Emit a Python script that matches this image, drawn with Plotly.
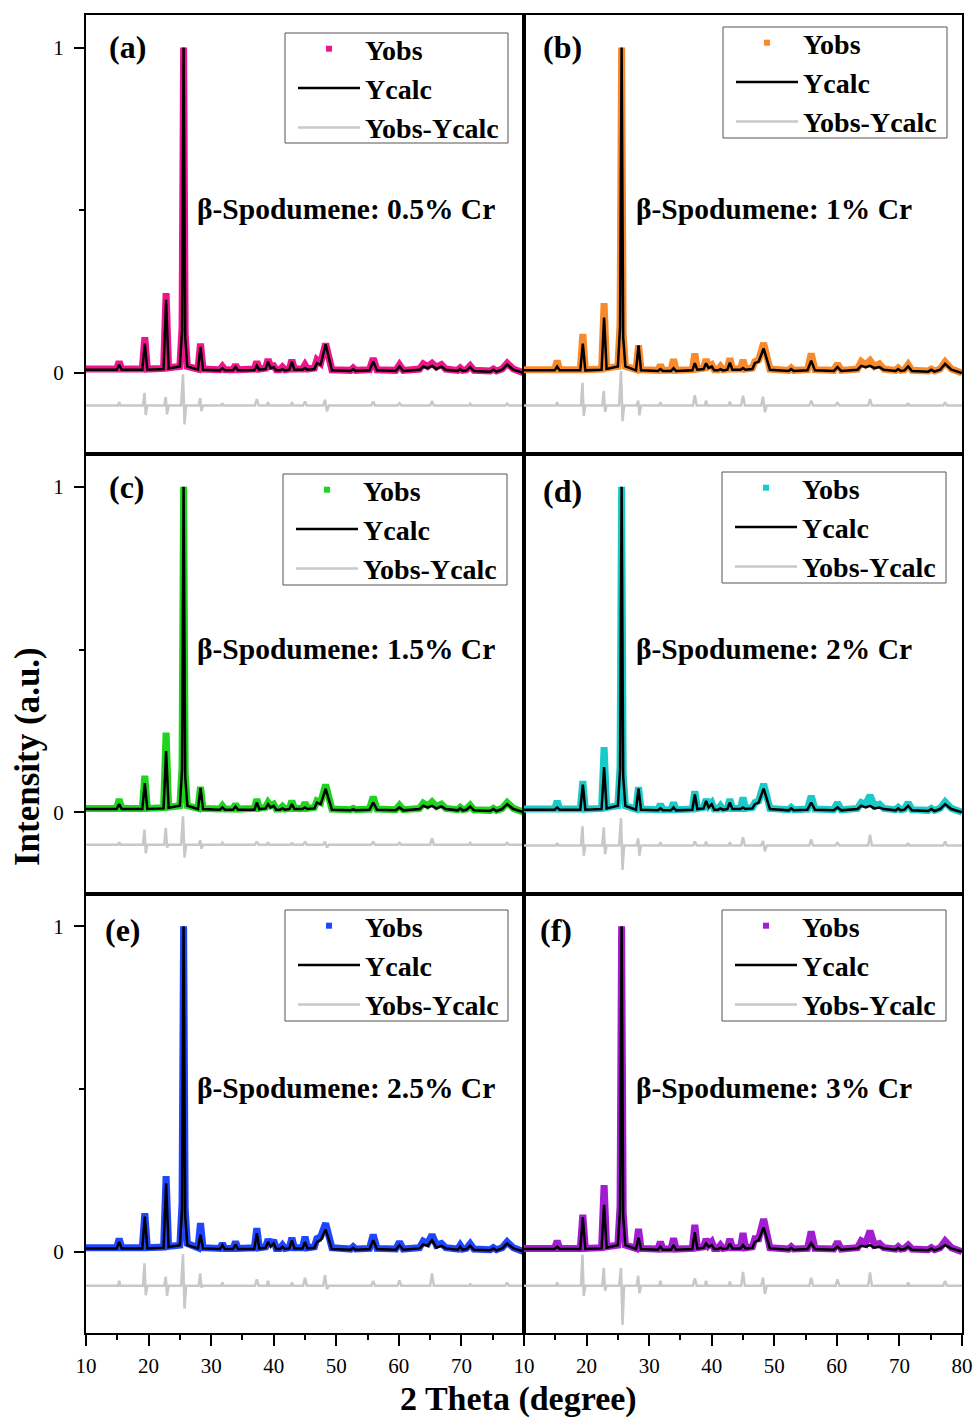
import plotly.graph_objects as go
from plotly.subplots import make_subplots

# ---------------- data ----------------
GRID_X = [10.0,
          14.9, 15.3, 15.7,
          19.0, 19.4, 19.8,
          22.4, 22.8, 23.2,
          25.0, 25.35, 25.6, 25.85, 26.2,
          27.9, 28.3, 28.7,
          31.4, 31.8, 32.2,
          33.5, 33.9, 34.3,
          36.9, 37.3, 37.7,
          38.7, 39.1, 39.5, 40.0, 40.4,
          41.0, 41.4, 41.8,
          42.5, 42.9, 43.3,
          44.6, 45.0, 45.4,
          46.5, 46.9, 47.5, 48.3, 49.3,
          52.3, 52.7, 53.1,
          55.3, 55.9, 56.5,
          59.5, 60.1, 60.7,
          63.3, 63.9, 64.6, 65.3, 66.0, 66.8, 67.5,
          69.4, 69.8, 70.2,
          70.8, 71.4, 72.0,
          74.6, 75.1, 75.6,
          76.5, 77.3, 78.3,
          80.0]

OBS_A = [0.012,
         0.012, 0.035, 0.012,
         0.012, 0.11, 0.012,
         0.014, 0.245, 0.016,
         0.02, 0.14, 1.0, 0.12, 0.02,
         0.012, 0.09, 0.012,
         0.01, 0.02, 0.01,
         0.01, 0.025, 0.01,
         0.012, 0.035, 0.012,
         0.015, 0.042, 0.02, 0.022, 0.01,
         0.01, 0.018, 0.01,
         0.012, 0.04, 0.012,
         0.012, 0.025, 0.012,
         0.015, 0.04, 0.03, 0.09, 0.01,
         0.008, 0.015, 0.008,
         0.01, 0.045, 0.01,
         0.008, 0.025, 0.008,
         0.012, 0.028, 0.02, 0.03, 0.018, 0.026, 0.012,
         0.008, 0.015, 0.008,
         0.01, 0.022, 0.008,
         0.006, 0.012, 0.006,
         0.012, 0.03, 0.012,
         0.0]
CALC_A = [0.01,
          0.01, 0.025, 0.01,
          0.01, 0.09, 0.01,
          0.012, 0.225, 0.014,
          0.02, 0.13, 1.0, 0.11, 0.02,
          0.01, 0.08, 0.01,
          0.008, 0.015, 0.008,
          0.008, 0.018, 0.008,
          0.008, 0.022, 0.01,
          0.012, 0.035, 0.015, 0.018, 0.008,
          0.008, 0.012, 0.008,
          0.01, 0.035, 0.01,
          0.01, 0.015, 0.01,
          0.012, 0.03, 0.025, 0.088, 0.008,
          0.006, 0.012, 0.006,
          0.008, 0.035, 0.008,
          0.006, 0.02, 0.006,
          0.01, 0.02, 0.015, 0.022, 0.012, 0.02, 0.01,
          0.006, 0.012, 0.006,
          0.008, 0.018, 0.006,
          0.004, 0.01, 0.004,
          0.01, 0.026, 0.01,
          0.0]

OBS_B = [0.01,
         0.01, 0.038, 0.01,
         0.01, 0.12, 0.01,
         0.012, 0.215, 0.015,
         0.02, 0.15, 1.0, 0.12, 0.02,
         0.01, 0.085, 0.01,
         0.008, 0.025, 0.008,
         0.008, 0.042, 0.008,
         0.01, 0.06, 0.012,
         0.015, 0.042, 0.02, 0.025, 0.01,
         0.01, 0.02, 0.01,
         0.012, 0.045, 0.012,
         0.012, 0.04, 0.012,
         0.015, 0.035, 0.04, 0.092, 0.012,
         0.008, 0.015, 0.008,
         0.01, 0.06, 0.01,
         0.008, 0.028, 0.008,
         0.012, 0.035, 0.025, 0.038, 0.02, 0.028, 0.012,
         0.008, 0.015, 0.008,
         0.01, 0.026, 0.008,
         0.006, 0.012, 0.006,
         0.012, 0.034, 0.012,
         0.0]
CALC_B = [0.008,
          0.008, 0.02, 0.008,
          0.008, 0.09, 0.008,
          0.01, 0.17, 0.012,
          0.02, 0.14, 1.0, 0.11, 0.02,
          0.008, 0.085, 0.008,
          0.006, 0.012, 0.006,
          0.006, 0.015, 0.006,
          0.008, 0.03, 0.01,
          0.012, 0.03, 0.015, 0.02, 0.008,
          0.008, 0.012, 0.008,
          0.01, 0.032, 0.01,
          0.01, 0.015, 0.01,
          0.012, 0.03, 0.035, 0.075, 0.01,
          0.006, 0.012, 0.006,
          0.008, 0.038, 0.008,
          0.006, 0.018, 0.006,
          0.01, 0.022, 0.018, 0.022, 0.015, 0.018, 0.01,
          0.006, 0.012, 0.006,
          0.008, 0.02, 0.006,
          0.004, 0.01, 0.004,
          0.01, 0.028, 0.01,
          0.0]

OBS_C = [0.012,
         0.012, 0.04, 0.012,
         0.012, 0.112, 0.012,
         0.014, 0.245, 0.016,
         0.02, 0.14, 1.0, 0.12, 0.02,
         0.012, 0.078, 0.012,
         0.01, 0.02, 0.01,
         0.01, 0.025, 0.01,
         0.012, 0.04, 0.012,
         0.015, 0.03, 0.02, 0.025, 0.01,
         0.01, 0.018, 0.01,
         0.012, 0.035, 0.012,
         0.012, 0.03, 0.012,
         0.015, 0.035, 0.03, 0.085, 0.01,
         0.008, 0.012, 0.008,
         0.01, 0.048, 0.01,
         0.008, 0.022, 0.008,
         0.012, 0.028, 0.02, 0.032, 0.018, 0.025, 0.012,
         0.008, 0.015, 0.008,
         0.01, 0.022, 0.008,
         0.006, 0.012, 0.006,
         0.012, 0.03, 0.012,
         0.0]
CALC_C = [0.01,
          0.01, 0.025, 0.01,
          0.01, 0.09, 0.01,
          0.012, 0.188, 0.014,
          0.02, 0.13, 1.0, 0.11, 0.02,
          0.01, 0.075, 0.01,
          0.008, 0.015, 0.008,
          0.008, 0.018, 0.008,
          0.008, 0.03, 0.01,
          0.012, 0.025, 0.015, 0.02, 0.008,
          0.008, 0.012, 0.008,
          0.01, 0.025, 0.01,
          0.01, 0.015, 0.01,
          0.012, 0.03, 0.025, 0.072, 0.008,
          0.006, 0.01, 0.006,
          0.008, 0.03, 0.008,
          0.006, 0.015, 0.006,
          0.01, 0.02, 0.015, 0.02, 0.012, 0.018, 0.01,
          0.006, 0.012, 0.006,
          0.008, 0.018, 0.006,
          0.004, 0.01, 0.004,
          0.01, 0.025, 0.01,
          0.0]

OBS_D = [0.01,
         0.01, 0.035, 0.01,
         0.01, 0.096, 0.01,
         0.012, 0.2, 0.015,
         0.02, 0.14, 1.0, 0.12, 0.02,
         0.01, 0.077, 0.01,
         0.008, 0.025, 0.008,
         0.008, 0.03, 0.008,
         0.01, 0.065, 0.012,
         0.015, 0.04, 0.02, 0.03, 0.01,
         0.01, 0.02, 0.01,
         0.012, 0.04, 0.012,
         0.012, 0.045, 0.012,
         0.015, 0.03, 0.035, 0.087, 0.012,
         0.008, 0.015, 0.008,
         0.01, 0.05, 0.01,
         0.008, 0.03, 0.008,
         0.012, 0.03, 0.025, 0.052, 0.02, 0.025, 0.012,
         0.008, 0.015, 0.008,
         0.01, 0.03, 0.008,
         0.006, 0.012, 0.006,
         0.012, 0.032, 0.012,
         0.0]
CALC_D = [0.008,
          0.008, 0.015, 0.008,
          0.008, 0.085, 0.008,
          0.01, 0.139, 0.012,
          0.02, 0.13, 1.0, 0.11, 0.02,
          0.008, 0.073, 0.008,
          0.006, 0.012, 0.006,
          0.006, 0.015, 0.006,
          0.008, 0.055, 0.01,
          0.012, 0.035, 0.015, 0.025, 0.008,
          0.008, 0.012, 0.008,
          0.01, 0.03, 0.01,
          0.01, 0.015, 0.01,
          0.012, 0.025, 0.03, 0.073, 0.01,
          0.006, 0.012, 0.006,
          0.008, 0.03, 0.008,
          0.006, 0.015, 0.006,
          0.01, 0.02, 0.015, 0.02, 0.012, 0.015, 0.01,
          0.006, 0.012, 0.006,
          0.008, 0.02, 0.006,
          0.004, 0.01, 0.004,
          0.01, 0.025, 0.01,
          0.0]

OBS_E = [0.012,
         0.012, 0.04, 0.012,
         0.012, 0.118, 0.012,
         0.014, 0.232, 0.016,
         0.02, 0.15, 1.0, 0.13, 0.025,
         0.012, 0.088, 0.012,
         0.01, 0.025, 0.01,
         0.01, 0.03, 0.01,
         0.012, 0.072, 0.012,
         0.015, 0.038, 0.02, 0.035, 0.01,
         0.01, 0.02, 0.01,
         0.012, 0.042, 0.012,
         0.012, 0.046, 0.012,
         0.015, 0.04, 0.045, 0.087, 0.012,
         0.008, 0.015, 0.008,
         0.01, 0.052, 0.01,
         0.008, 0.03, 0.008,
         0.012, 0.032, 0.025, 0.052, 0.02, 0.025, 0.012,
         0.008, 0.02, 0.008,
         0.01, 0.024, 0.008,
         0.006, 0.012, 0.006,
         0.012, 0.03, 0.012,
         0.0]
CALC_E = [0.01,
          0.01, 0.03, 0.01,
          0.01, 0.108, 0.01,
          0.012, 0.21, 0.014,
          0.02, 0.13, 1.0, 0.11, 0.02,
          0.01, 0.052, 0.01,
          0.008, 0.02, 0.008,
          0.008, 0.022, 0.008,
          0.008, 0.057, 0.01,
          0.012, 0.03, 0.015, 0.025, 0.008,
          0.008, 0.015, 0.008,
          0.01, 0.035, 0.01,
          0.01, 0.03, 0.01,
          0.012, 0.03, 0.035, 0.068, 0.008,
          0.006, 0.012, 0.006,
          0.008, 0.035, 0.008,
          0.006, 0.02, 0.006,
          0.01, 0.022, 0.018, 0.035, 0.012, 0.018, 0.01,
          0.006, 0.015, 0.006,
          0.008, 0.018, 0.006,
          0.004, 0.01, 0.004,
          0.01, 0.025, 0.01,
          0.0]

OBS_F = [0.01,
         0.01, 0.033, 0.01,
         0.01, 0.113, 0.01,
         0.012, 0.204, 0.015,
         0.02, 0.14, 1.0, 0.12, 0.02,
         0.01, 0.07, 0.01,
         0.008, 0.03, 0.008,
         0.008, 0.041, 0.008,
         0.01, 0.082, 0.012,
         0.015, 0.039, 0.02, 0.03, 0.01,
         0.01, 0.02, 0.01,
         0.012, 0.039, 0.012,
         0.012, 0.057, 0.012,
         0.015, 0.04, 0.04, 0.1, 0.012,
         0.008, 0.015, 0.008,
         0.01, 0.062, 0.01,
         0.008, 0.03, 0.008,
         0.012, 0.033, 0.025, 0.064, 0.02, 0.025, 0.012,
         0.008, 0.015, 0.008,
         0.01, 0.02, 0.008,
         0.006, 0.012, 0.006,
         0.012, 0.033, 0.012,
         0.0]
CALC_F = [0.008,
          0.008, 0.015, 0.008,
          0.008, 0.105, 0.008,
          0.01, 0.144, 0.012,
          0.02, 0.13, 1.0, 0.11, 0.02,
          0.008, 0.043, 0.008,
          0.006, 0.015, 0.006,
          0.006, 0.02, 0.006,
          0.008, 0.06, 0.01,
          0.012, 0.025, 0.015, 0.02, 0.008,
          0.008, 0.012, 0.008,
          0.01, 0.025, 0.01,
          0.01, 0.02, 0.01,
          0.012, 0.03, 0.035, 0.074, 0.01,
          0.006, 0.012, 0.006,
          0.008, 0.026, 0.008,
          0.006, 0.015, 0.006,
          0.01, 0.018, 0.015, 0.02, 0.012, 0.015, 0.01,
          0.006, 0.012, 0.006,
          0.008, 0.015, 0.006,
          0.004, 0.01, 0.004,
          0.01, 0.02, 0.01,
          0.0]

DIFF_X = [10.0,
          15.1, 15.3, 15.5,
          19.1, 19.35, 19.55, 19.8,
          22.5, 22.75, 22.95, 23.2,
          25.2, 25.5, 25.75, 26.0,
          28.0, 28.25, 28.45, 28.7,
          31.6, 31.8, 32.0,
          37.0, 37.3, 37.6,
          38.9, 39.1, 39.3,
          42.7, 42.9, 43.1,
          44.7, 45.0, 45.3,
          47.9, 48.2, 48.5, 48.8,
          55.6, 55.9, 56.2,
          59.8, 60.1, 60.4,
          65.0, 65.3, 65.6,
          71.2, 71.4, 71.6,
          77.0, 77.3, 77.6,
          80.0]

DIFF_A = [-0.1,
          -0.1, -0.09, -0.1,
          -0.1, -0.061, -0.129, -0.1,
          -0.1, -0.074, -0.127, -0.1,
          -0.1, -0.004, -0.158, -0.1,
          -0.1, -0.077, -0.117, -0.1,
          -0.1, -0.093, -0.1,
          -0.1, -0.08, -0.1,
          -0.1, -0.09, -0.1,
          -0.1, -0.09, -0.1,
          -0.1, -0.088, -0.1,
          -0.1, -0.082, -0.118, -0.1,
          -0.1, -0.088, -0.1,
          -0.1, -0.093, -0.1,
          -0.1, -0.086, -0.1,
          -0.1, -0.095, -0.1,
          -0.1, -0.094, -0.1,
          -0.1]
DIFF_B = [-0.1,
          -0.1, -0.09, -0.1,
          -0.1, -0.03, -0.132, -0.1,
          -0.1, -0.055, -0.12, -0.1,
          -0.1, 0.006, -0.148, -0.1,
          -0.1, -0.085, -0.13, -0.1,
          -0.1, -0.09, -0.1,
          -0.1, -0.068, -0.1,
          -0.1, -0.085, -0.1,
          -0.1, -0.088, -0.1,
          -0.1, -0.07, -0.1,
          -0.1, -0.073, -0.12, -0.1,
          -0.1, -0.085, -0.1,
          -0.1, -0.09, -0.1,
          -0.1, -0.08, -0.1,
          -0.1, -0.092, -0.1,
          -0.1, -0.09, -0.1,
          -0.1]
DIFF_C = [-0.1,
          -0.1, -0.092, -0.1,
          -0.1, -0.053, -0.126, -0.1,
          -0.1, -0.048, -0.108, -0.1,
          -0.1, -0.012, -0.139, -0.1,
          -0.1, -0.086, -0.112, -0.1,
          -0.1, -0.094, -0.1,
          -0.1, -0.09, -0.1,
          -0.1, -0.092, -0.1,
          -0.1, -0.093, -0.1,
          -0.1, -0.09, -0.1,
          -0.1, -0.09, -0.108, -0.1,
          -0.1, -0.09, -0.1,
          -0.1, -0.094, -0.1,
          -0.1, -0.079, -0.1,
          -0.1, -0.094, -0.1,
          -0.1, -0.094, -0.1,
          -0.1]
DIFF_D = [-0.102,
          -0.102, -0.095, -0.102,
          -0.102, -0.043, -0.133, -0.102,
          -0.102, -0.046, -0.129, -0.102,
          -0.102, -0.018, -0.177, -0.102,
          -0.102, -0.08, -0.133, -0.102,
          -0.102, -0.092, -0.102,
          -0.102, -0.09, -0.102,
          -0.102, -0.09, -0.102,
          -0.102, -0.092, -0.102,
          -0.102, -0.077, -0.102,
          -0.102, -0.088, -0.12, -0.102,
          -0.102, -0.083, -0.102,
          -0.102, -0.092, -0.102,
          -0.102, -0.069, -0.102,
          -0.102, -0.095, -0.102,
          -0.102, -0.09, -0.102,
          -0.102]
DIFF_E = [-0.105,
          -0.105, -0.09, -0.105,
          -0.105, -0.036, -0.134, -0.105,
          -0.105, -0.077, -0.136, -0.105,
          -0.105, -0.008, -0.175, -0.105,
          -0.105, -0.067, -0.11, -0.105,
          -0.105, -0.095, -0.105,
          -0.105, -0.085, -0.105,
          -0.105, -0.09, -0.105,
          -0.105, -0.095, -0.105,
          -0.105, -0.08, -0.105,
          -0.105, -0.072, -0.115, -0.105,
          -0.105, -0.09, -0.105,
          -0.105, -0.088, -0.105,
          -0.105, -0.067, -0.105,
          -0.105, -0.1, -0.105,
          -0.105, -0.095, -0.105,
          -0.105]
DIFF_F = [-0.105,
          -0.105, -0.095, -0.105,
          -0.105, -0.01, -0.136, -0.105,
          -0.105, -0.05, -0.12, -0.105,
          -0.105, -0.05, -0.225, -0.105,
          -0.105, -0.074, -0.128, -0.105,
          -0.105, -0.09, -0.105,
          -0.105, -0.082, -0.105,
          -0.105, -0.09, -0.105,
          -0.105, -0.092, -0.105,
          -0.105, -0.062, -0.105,
          -0.105, -0.08, -0.13, -0.105,
          -0.105, -0.08, -0.105,
          -0.105, -0.085, -0.105,
          -0.105, -0.064, -0.105,
          -0.105, -0.095, -0.105,
          -0.105, -0.09, -0.105,
          -0.105]

PANEL_TAGS = ["(a)", "(b)", "(c)", "(d)", "(e)", "(f)"]
PANEL_TEXT = ["β-Spodumene: 0.5% Cr", "β-Spodumene: 1% Cr",
              "β-Spodumene: 1.5% Cr", "β-Spodumene: 2% Cr",
              "β-Spodumene: 2.5% Cr", "β-Spodumene: 3% Cr"]
OBS_SETS = [OBS_A, OBS_B, OBS_C, OBS_D, OBS_E, OBS_F]
CALC_SETS = [CALC_A, CALC_B, CALC_C, CALC_D, CALC_E, CALC_F]
DIFF_SETS = [DIFF_A, DIFF_B, DIFF_C, DIFF_D, DIFF_E, DIFF_F]
OBS_COLORS = ["#F0148C", "#F98A2C", "#1ED41E", "#19CACA", "#1F45FF", "#A21CD0"]

X_TICKS = [10, 20, 30, 40, 50, 60, 70, 80]
X_MINOR = [15, 25, 35, 45, 55, 65, 75]

# ---------------- layout geometry (pixels) ----------------
W, H = 977, 1420
ML, MR, MT, MB = 86, 15, 15, 87
PW = W - ML - MR
PH = H - MT - MB


def px(x):
    return (x - ML) / PW


def py(y):
    return 1 - (y - MT) / PH


FONT = "Liberation Serif"
TAG_POS = [(107, 47), (541, 47), (107, 487), (541, 491), (103, 930), (538, 930)]
TEXT_POS = [(195, 209), (634, 209), (195, 649), (634, 649), (195, 1088), (634, 1088)]
# legend frames (x0, y0, x1, y1) and y of first legend entry
LEG_BOX = [(285, 33, 508, 143), (723, 27, 947, 138), (283, 474, 507, 585),
           (722, 472, 946, 583), (285, 910, 508, 1021), (722, 910, 946, 1021)]
LEG_FIRST = [51, 45, 492, 490, 928, 928]

for arr in OBS_SETS + CALC_SETS:
    assert len(arr) == len(GRID_X)
for arr in DIFF_SETS:
    assert len(arr) == len(DIFF_X)

fig = make_subplots(rows=3, cols=2, horizontal_spacing=0, vertical_spacing=0)

annotations = []
shapes = []
for i in range(6):
    row, col = i // 2 + 1, i % 2 + 1
    leg = "legend" if i == 0 else f"legend{i + 1}"
    color = OBS_COLORS[i]
    fig.add_trace(go.Scatter(x=GRID_X, y=OBS_SETS[i], mode="lines",
                             line=dict(color=color, width=7), showlegend=False,
                             legend=leg), row=row, col=col)
    fig.add_trace(go.Scatter(x=[None], y=[None], mode="markers", name="Yobs",
                             marker=dict(symbol="square", size=6, color=color),
                             legend=leg), row=row, col=col)
    fig.add_trace(go.Scatter(x=GRID_X, y=CALC_SETS[i], mode="lines", name="Ycalc",
                             line=dict(color="black", width=2.5), legend=leg),
                  row=row, col=col)
    fig.add_trace(go.Scatter(x=DIFF_X, y=DIFF_SETS[i], mode="lines", name="Yobs-Ycalc",
                             line=dict(color="#C8C8C8", width=2.5), legend=leg),
                  row=row, col=col)

    x0, y0, x1, y1 = LEG_BOX[i]
    shapes.append(dict(type="rect", xref="paper", yref="paper",
                       x0=px(x0), x1=px(x1), y0=py(y1), y1=py(y0),
                       line=dict(color="#555555", width=1), fillcolor="white",
                       layer="above"))
    fig.update_layout({leg: dict(x=px(x0 + 8), y=py(LEG_FIRST[i] - 27),
                                 xanchor="left", yanchor="top",
                                 bgcolor="rgba(0,0,0,0)", borderwidth=0,
                                 font=dict(family=FONT, size=28, color="black",
                                           weight="bold"),
                                 itemwidth=62, tracegroupgap=0)})

    tx, ty = TAG_POS[i]
    annotations.append(dict(x=px(tx), y=py(ty), xref="paper", yref="paper",
                            xanchor="left", yanchor="middle", showarrow=False,
                            text=PANEL_TAGS[i],
                            font=dict(family=FONT, size=32, color="black", weight="bold")))
    sx, sy = TEXT_POS[i]
    annotations.append(dict(x=px(sx), y=py(sy), xref="paper", yref="paper",
                            xanchor="left", yanchor="middle", showarrow=False,
                            text=PANEL_TEXT[i],
                            font=dict(family=FONT, size=29.5, color="black", weight="bold")))

annotations.append(dict(x=px(27), y=py(757), xref="paper", yref="paper",
                        xanchor="center", yanchor="middle", showarrow=False,
                        textangle=-90, text="Intensity (a.u.)",
                        font=dict(family=FONT, size=35, color="black", weight="bold")))
annotations.append(dict(x=px(518), y=py(1399), xref="paper", yref="paper",
                        xanchor="center", yanchor="middle", showarrow=False,
                        text="2 Theta (degree)",
                        font=dict(family=FONT, size=34, color="black", weight="bold")))

fig.update_xaxes(range=[10, 80], showline=True, mirror=True, linecolor="black",
                 linewidth=2, showgrid=False, zeroline=False, ticks="",
                 showticklabels=False, automargin=False)
fig.update_yaxes(range=[-0.25, 1.1], showline=True, mirror=True, linecolor="black",
                 linewidth=2, showgrid=False, zeroline=False, ticks="",
                 showticklabels=False, automargin=False)

tickfont = dict(family=FONT, size=21, color="black")
for col, vals in ((1, X_TICKS[:-1]), (2, X_TICKS)):
    fig.update_xaxes(row=3, col=col, ticks="outside", ticklen=11, tickwidth=2,
                     tickcolor="black", tickmode="array", tickvals=vals,
                     ticktext=[str(v) for v in vals], showticklabels=True,
                     tickfont=tickfont, ticklabelstandoff=2,
                     minor=dict(ticks="outside", ticklen=5, tickwidth=2,
                                tickcolor="black", tickmode="array", tickvals=X_MINOR))
for row in (1, 2, 3):
    fig.update_yaxes(row=row, col=1, ticks="outside", ticklen=10, tickwidth=2,
                     tickcolor="black", tickmode="array", tickvals=[0, 1],
                     ticktext=["0", "1"], showticklabels=True, tickfont=tickfont,
                     ticklabelstandoff=6,
                     minor=dict(ticks="outside", ticklen=5, tickwidth=2,
                                tickcolor="black", tickmode="array", tickvals=[0.5]))

fig.update_layout(width=W, height=H, autosize=False,
                  margin=dict(l=ML, r=MR, t=MT, b=MB, autoexpand=False),
                  paper_bgcolor="white", plot_bgcolor="white",
                  annotations=annotations, shapes=shapes,
                  font=dict(family=FONT, color="black"))

fig.write_html("out.html")
